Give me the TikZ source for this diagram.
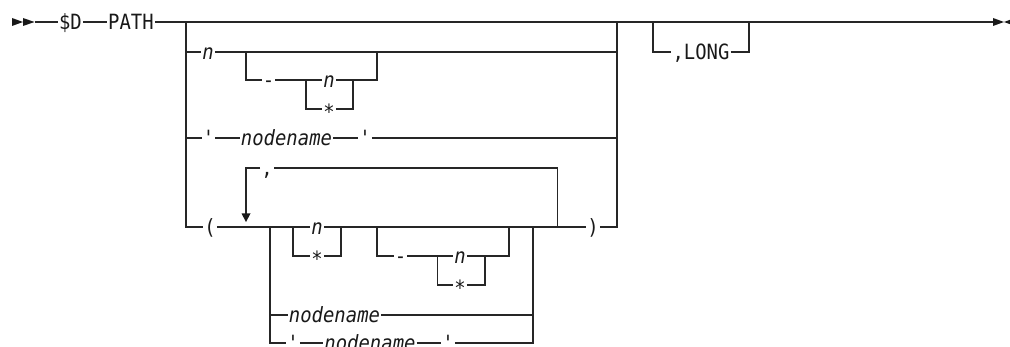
\documentclass[tikz,border=0pt]{standalone}
\usepackage{fontspec}
\setmonofont[FakeStretch=0.9]{DejaVu Sans Mono}
\begin{document}
\begin{tikzpicture}[x=1pt,y=-1pt,
  rr/.style={draw=black!85, line width=1.1pt},
  tipfill/.style={fill=black!90},
  lbl/.style={font=\fontsize{21}{21}\selectfont\ttfamily, text=black!90, inner xsep=1pt, inner ysep=0pt, text height=19pt, text depth=4pt},
  var/.style={lbl, font=\fontsize{21}{21}\selectfont\ttfamily\itshape},
  starlbl/.style={lbl}]
\useasboundingbox (0,0) rectangle (1010,347);

% start and end marks
\fill[tipfill] (12,18) -- (23,22) -- (12,26) -- cycle;
\fill[tipfill] (23,18) -- (34.5,22) -- (23,26) -- cycle;
\coordinate (s) at (35,22);
\coordinate (e) at (993,22);
\fill[tipfill] (993,18) -- (1004,22) -- (993,26) -- cycle;
\fill[tipfill] (1004,22) -- (1015,18) -- (1015,26) -- cycle;

% main line
\node[lbl] (D) at (70.5,22) {\$D};
\node[lbl] (PATH) at (131,22) {PATH};
\coordinate (j1) at (186,22);
\coordinate (j1b) at (186,227);
\coordinate (j2) at (617,22);
\coordinate (j2b) at (617,227);
\coordinate (lg1) at (653,22);
\coordinate (lg2) at (749,22);
\node[lbl] (LONG) at (701,52) {,LONG};
\draw[rr] (s) -- (D) -- (PATH) -- (j1) -- (j2) -- (e);
\draw[rr] (lg1) |- (LONG) -| (lg2);

% row n
\node[var] (n1) at (208,52) {n};
\coordinate (r2) at (617,52);
\draw[rr] (j1) |- (n1);
\draw[rr] (n1) -- (r2);

% optional - (n|*)
\coordinate (a1) at (246,52);
\coordinate (a2) at (377,52);
\coordinate (a2b) at (377,80);
\node[lbl] (dashA) at (268.5,80) {-};
\coordinate (c1) at (306,80);
\coordinate (c2) at (353,80);
\node[var] (nA) at (329,80) {n};
\node[starlbl] (sA) at (329,109) {\raisebox{-3.5pt}{*}};
\draw[rr] (a1) |- (dashA) -- (c1) -- (nA) -- (c2) -- (a2b) -- (a2);
\draw[rr] (c1) |- (sA) -| (c2);

% row 'nodename'
\node[lbl] (q1) at (208.5,138) {'};
\node[var] (nn1) at (286.5,138) {nodename};
\node[lbl] (q2) at (365,138) {'};
\coordinate (r4) at (617,138);
\draw[rr] (j1) |- (q1) -- (nn1) -- (q2) -- (r4);

% row ( ... )
\node[lbl] (lpar) at (210,227) {(};
\node[lbl] (rpar) at (593,227) {)};
\draw[rr] (j1) -- (j1b) -- (lpar);
\draw[rr] (rpar) -- (j2b) -- (j2);

% repeat loop
\coordinate (Lt) at (246,168);
\coordinate (Lar) at (246,214);
\node[lbl] (comma) at (267,168) {,};
\coordinate (Lr) at (557.7,168);
\coordinate (Lrb) at (557.7,227);
\draw[rr] (Lrb) -- (Lr) -- (comma) -- (Lt) -- (Lar);
\fill[tipfill] (241.5,213.5) -- (250.5,213.5) -- (246,222) -- cycle;

% inner group
\coordinate (g1) at (270,227);
\coordinate (g2) at (533,227);
\coordinate (g2m) at (533,315);
\coordinate (g2b) at (533,343);
\coordinate (ch1) at (293,227);
\coordinate (ch2) at (341,227);
\node[var] (nB) at (317,227) {n};
\node[starlbl] (sB) at (317,256) {\raisebox{-3.5pt}{*}};
\coordinate (b1) at (377,227);
\coordinate (b2) at (509,227);
\coordinate (b2b) at (509,256);
\node[lbl] (dashB) at (400.5,256) {-};
\coordinate (d1) at (437.7,256);
\coordinate (d2) at (485,256);
\node[var] (nC) at (460,256) {n};
\node[starlbl] (sC) at (460,285) {\raisebox{-3.5pt}{*}};
\draw[rr] (lpar) -- (g1) -- (ch1) -- (nB) -- (ch2) -- (b1) -- (b2) -- (g2) -- (Lrb) -- (rpar);
\draw[rr] (ch1) |- (sB) -| (ch2);
\draw[rr] (b1) |- (dashB) -- (d1) -- (nC) -- (d2) -- (b2b) -- (b2);
\draw[rr] (d1) |- (sC) -| (d2);

\node[var] (nn2) at (334.5,315) {nodename};
\draw[rr] (g1) |- (nn2) -- (g2m);
\node[lbl] (q3) at (293,343) {'};
\node[var] (nn3) at (370,343) {nodename};
\node[lbl] (q4) at (448,343) {'};
\draw[rr] (g1) |- (q3) -- (nn3) -- (q4) -- (g2b) -- (g2);
\end{tikzpicture}
\end{document}
